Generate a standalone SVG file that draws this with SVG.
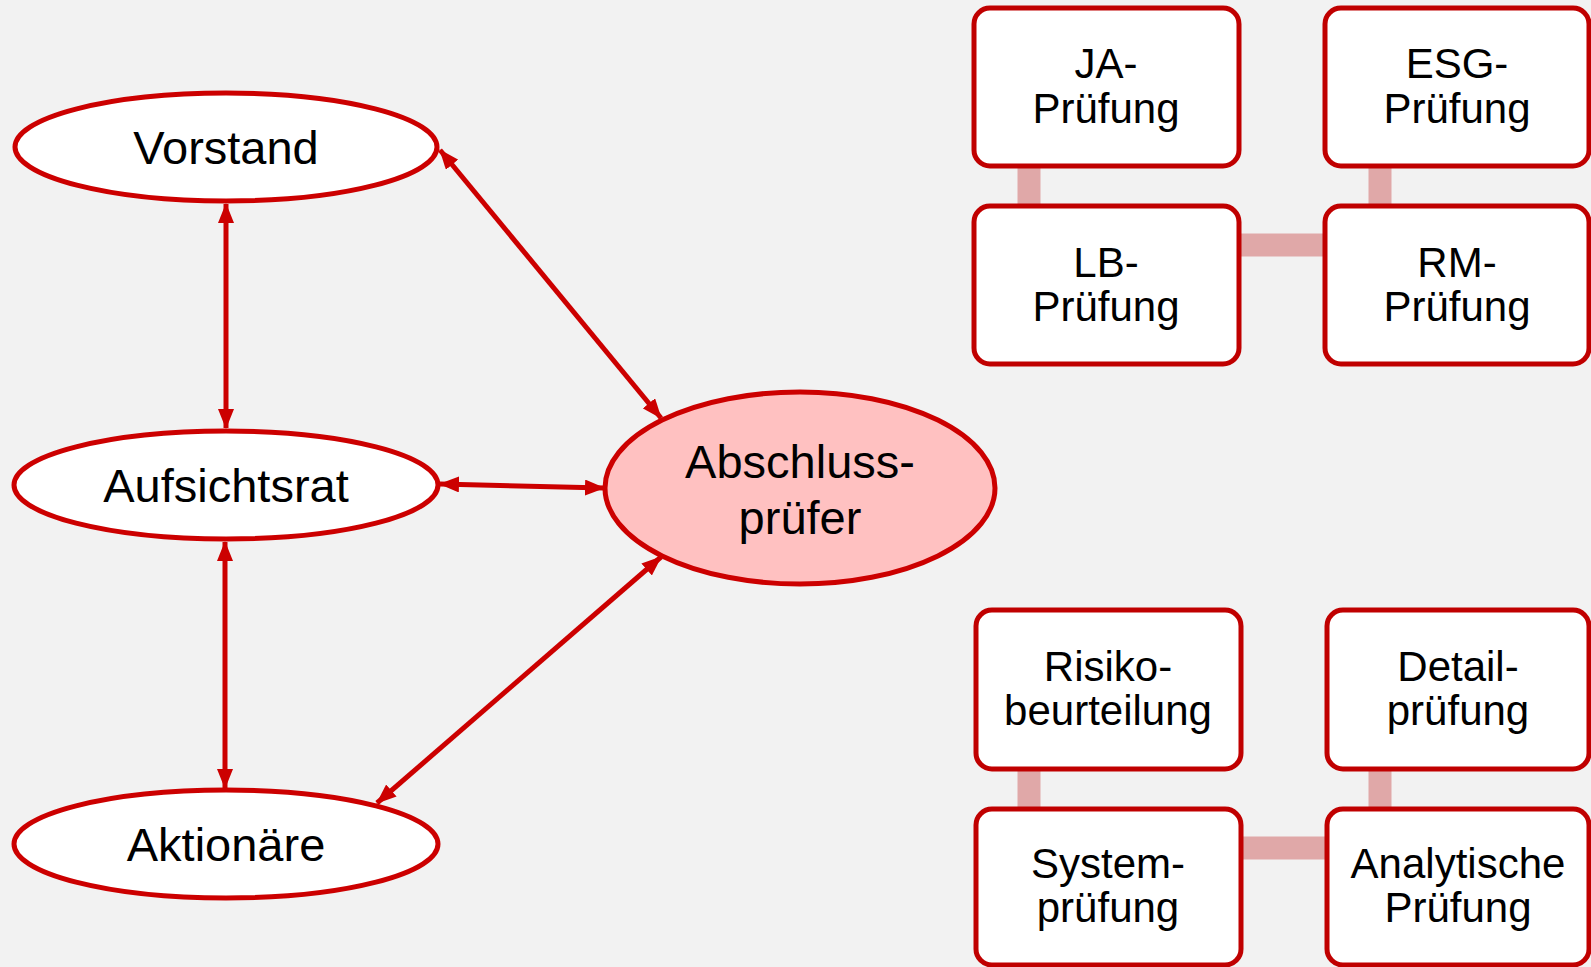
<svg xmlns="http://www.w3.org/2000/svg" width="1591" height="967" viewBox="0 0 1591 967">
<defs>
<marker id="ah" viewBox="0 0 20 16" refX="19" refY="8" markerWidth="20" markerHeight="16" markerUnits="userSpaceOnUse" orient="auto-start-reverse">
<path d="M0,0 L20,8 L0,16 z" fill="#CC0000"/>
</marker>
<style>
.ell{fill:#FFFFFF;stroke:#CC0000;stroke-width:5}
.ell.main{fill:#FFC1C1}
.box{fill:#FFFFFF;stroke:#C00000;stroke-width:5}
.bar{stroke:#E0A8A8;stroke-width:23;fill:none}
.arr{stroke:#CC0000;stroke-width:5;fill:none;marker-start:url(#ah);marker-end:url(#ah)}
.t1{font-family:"Liberation Sans",Arial,sans-serif;font-size:47px;fill:#000;text-anchor:middle}
.t2{font-family:"Liberation Sans",Arial,sans-serif;font-size:42px;fill:#000;text-anchor:middle}
</style>
</defs>
<rect x="0" y="0" width="1591" height="967" fill="#F2F2F2"/>
<g id="connectors">
<line class="bar" x1="1029" y1="166" x2="1029" y2="206"/>
<line class="bar" x1="1380" y1="166" x2="1380" y2="206"/>
<line class="bar" x1="1239" y1="245" x2="1325" y2="245"/>
<line class="bar" x1="1029" y1="769" x2="1029" y2="809"/>
<line class="bar" x1="1380" y1="769" x2="1380" y2="809"/>
<line class="bar" x1="1241" y1="848" x2="1327" y2="848"/>
<line class="arr" x1="226" y1="204" x2="226" y2="428"/>
<line class="arr" x1="225" y1="542" x2="225" y2="788"/>
<line class="arr" x1="440" y1="150" x2="661" y2="418"/>
<line class="arr" x1="440" y1="484" x2="604" y2="488"/>
<line class="arr" x1="377" y1="803" x2="661" y2="557"/>
</g>
<g id="vorstand">
<ellipse class="ell" cx="226" cy="147" rx="211" ry="54"/>
<text class="t1" x="226" y="164">Vorstand</text>
</g>
<g id="aufsichtsrat">
<ellipse class="ell" cx="226" cy="485" rx="212" ry="54"/>
<text class="t1" x="226" y="502">Aufsichtsrat</text>
</g>
<g id="aktionaere">
<ellipse class="ell" cx="226" cy="844" rx="212" ry="54"/>
<text class="t1" x="226" y="861">Aktionäre</text>
</g>
<g id="abschlusspruefer">
<ellipse class="ell main" cx="800" cy="488" rx="195" ry="96"/>
<text class="t1" x="800" y="478">Abschluss-</text>
<text class="t1" x="800" y="534">prüfer</text>
</g>
<g id="ja">
<rect class="box" x="974" y="8" width="265" height="158" rx="16"/>
<text class="t2" x="1106" y="78">JA-</text>
<text class="t2" x="1106" y="123">Prüfung</text>
</g>
<g id="esg">
<rect class="box" x="1325" y="8" width="264" height="158" rx="16"/>
<text class="t2" x="1457" y="78">ESG-</text>
<text class="t2" x="1457" y="123">Prüfung</text>
</g>
<g id="lb">
<rect class="box" x="974" y="206" width="265" height="158" rx="16"/>
<text class="t2" x="1106" y="277">LB-</text>
<text class="t2" x="1106" y="321">Prüfung</text>
</g>
<g id="rm">
<rect class="box" x="1325" y="206" width="264" height="158" rx="16"/>
<text class="t2" x="1457" y="277">RM-</text>
<text class="t2" x="1457" y="321">Prüfung</text>
</g>
<g id="risiko">
<rect class="box" x="976" y="610" width="265" height="159" rx="16"/>
<text class="t2" x="1108" y="681">Risiko-</text>
<text class="t2" x="1108" y="725">beurteilung</text>
</g>
<g id="detail">
<rect class="box" x="1327" y="610" width="262" height="159" rx="16"/>
<text class="t2" x="1458" y="681">Detail-</text>
<text class="t2" x="1458" y="725">prüfung</text>
</g>
<g id="system">
<rect class="box" x="976" y="809" width="265" height="156" rx="16"/>
<text class="t2" x="1108" y="878">System-</text>
<text class="t2" x="1108" y="922">prüfung</text>
</g>
<g id="analytisch">
<rect class="box" x="1327" y="809" width="262" height="156" rx="16"/>
<text class="t2" x="1458" y="878">Analytische</text>
<text class="t2" x="1458" y="922">Prüfung</text>
</g>
</svg>
